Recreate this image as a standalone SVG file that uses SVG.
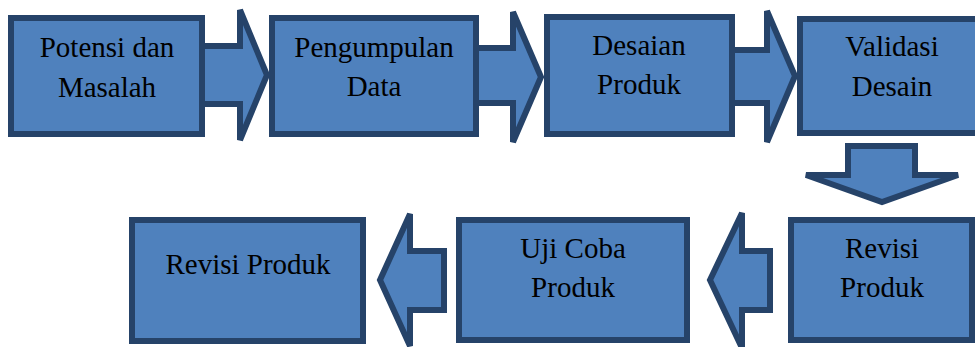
<svg xmlns="http://www.w3.org/2000/svg" width="975" height="347" viewBox="0 0 975 347">
<style>
.b{fill:#4F81BD;stroke:#264369;stroke-width:6}
.a{fill:#4F81BD;stroke:#264369;stroke-width:6;stroke-linejoin:miter}
.t{font-family:'Times New Roman','Liberation Serif',Tinos,'DejaVu Serif',serif;font-size:29px;fill:#000;text-anchor:middle}
</style>
<rect width="975" height="347" fill="#fff"/>
<g id="connectors">
<path class="a" d="M202,46 L240,46 L240,10 L267,75 L240,140 L240,104 L202,104 Z"/>
<path class="a" d="M476,48 L513,48 L513,12 L541,77 L513,142 L513,103 L476,103 Z"/>
<path class="a" d="M732,50 L767,50 L767,11 L795,76 L767,142 L767,103 L732,103 Z"/>
<path class="a" d="M848,146 L915,146 L915,175 L958,175 L882,202 L806,175 L848,175 Z"/>
<path class="a" d="M710,280 L742,213 L742,251 L770,251 L770,310 L742,310 L742,348 Z"/>
<path class="a" d="M380,280 L410,214 L410,251 L444,251 L444,310 L410,310 L410,346 Z"/>
</g>
<g id="n1"><rect class="b" x="11" y="18" width="191" height="116"/><text class="t" x="107" y="57">Potensi dan</text><text class="t" x="107" y="97">Masalah</text></g>
<g id="n2"><rect class="b" x="272" y="18" width="204" height="116"/><text class="t" x="374" y="57">Pengumpulan</text><text class="t" x="374" y="96">Data</text></g>
<g id="n3"><rect class="b" x="547" y="17" width="185" height="117"/><text class="t" x="639" y="55">Desaian</text><text class="t" x="639" y="94">Produk</text></g>
<g id="n4"><rect class="b" x="800" y="19" width="185" height="114"/><text class="t" x="892" y="56">Validasi</text><text class="t" x="892" y="96">Desain</text></g>
<g id="n5"><rect class="b" x="791" y="220" width="181" height="120"/><text class="t" x="882" y="258">Revisi</text><text class="t" x="882" y="297">Produk</text></g>
<g id="n6"><rect class="b" x="459" y="220" width="228" height="120"/><text class="t" x="573" y="258">Uji Coba</text><text class="t" x="573" y="297">Produk</text></g>
<g id="n7"><rect class="b" x="132" y="220" width="231" height="121"/><text class="t" x="248" y="274">Revisi Produk</text></g>
</svg>
